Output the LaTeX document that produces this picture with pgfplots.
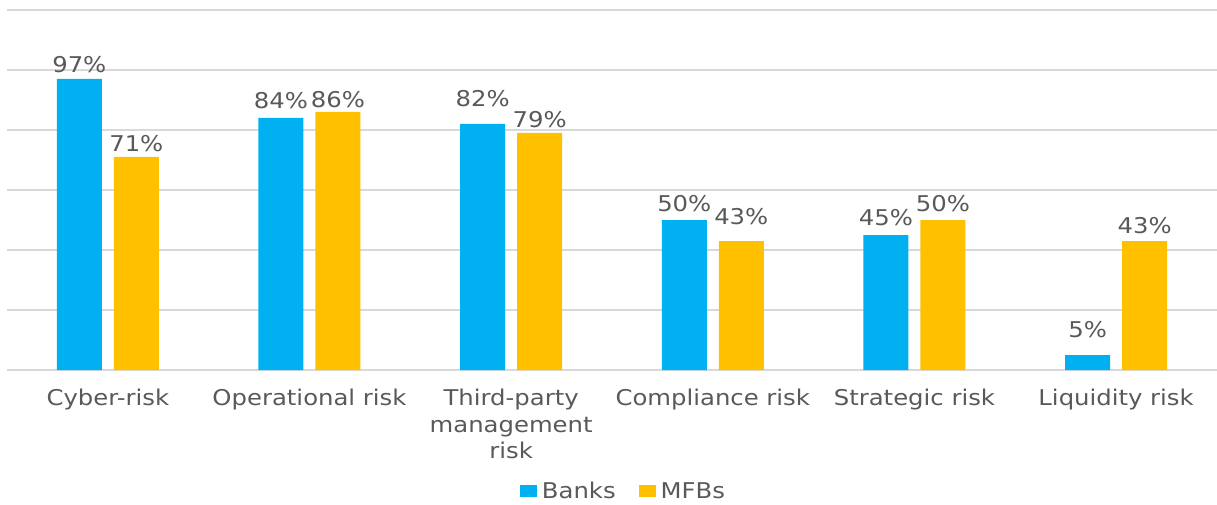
\documentclass[border=0pt]{standalone}
\usepackage{pgfplots}
\pgfplotsset{compat=1.18}
\usepackage{fontspec}
\setmainfont{DejaVu Sans}[FakeStretch=1.12]
\definecolor{banks}{HTML}{00B0F0}
\definecolor{mfbs}{HTML}{FFC000}
\definecolor{txt}{HTML}{595959}
\definecolor{gridc}{HTML}{D9D9D9}
\begin{document}
\begin{tikzpicture}
\path[use as bounding box] (-7bp,-135bp) rectangle (1210bp,370bp);
\begin{axis}[
  at={(0,0)}, anchor=south west,
  scale only axis, width=1210bp, height=360bp,
  ybar=12bp, bar width=45bp,
  xmin=-0.5, xmax=5.5, ymin=0, ymax=120,
  axis line style={draw=none},
  major tick length=0pt,
  xtick={0,1,2,3,4,5},
  xticklabels={Cyber-risk, Operational risk, {Third-party\\management\\risk}, Compliance risk, Strategic risk, Liquidity risk},
  xticklabel style={align=center, inner sep=0pt, yshift=-19bp, text=txt},
  ytick={0,20,40,60,80,100,120},
  yticklabels={},
  ymajorgrids, grid style={draw=gridc, line width=1.5bp},
  font=\fontsize{21.8}{26.5}\selectfont,
  /pgf/number format/assume math mode=true,
  nodes near coords={\pgfmathprintnumber{\pgfplotspointmeta}\%},
  point meta=y,
  legend style={at={(0.5095,-0.336)}, anchor=center, draw=none, fill=none,
    legend columns=2, font=\fontsize{21.8}{26.5}\selectfont, text=txt,
    /tikz/every even column/.append style={column sep=21bp}},
  clip=false,
]
\addplot[fill=banks, draw=none,
  visualization depends on={value \thisrow{off} \as \labeloff},
  every node near coord/.append style={text=txt, inner sep=0pt, yshift=\labeloff bp, font=\fontsize{21.8}{26.5}\selectfont},
  legend image code/.code={\fill[banks] (0bp,-6bp) rectangle (17bp,6bp); \path (0bp,0bp) -- (20bp,0bp);}]
  table[x=x, y=y] {
x y off
0 97 6
1 84 8.7
2 82 17
3 50 8.3
4 45 8.7
5 5 17
};
\addplot[fill=mfbs, draw=none,
  visualization depends on={value \thisrow{off} \as \labeloff},
  every node near coord/.append style={text=txt, inner sep=0pt, yshift=\labeloff bp, font=\fontsize{21.8}{26.5}\selectfont},
  legend image code/.code={\fill[mfbs] (0bp,-6bp) rectangle (17bp,6bp); \path (0bp,0bp) -- (20bp,0bp);}]
  table[x=x, y=y] {
x y off
0 71 4.5
1 86 4
2 79 5
3 43 16
4 50 8.3
5 43 7
};
\legend{Banks, MFBs}
\end{axis}
\end{tikzpicture}
\end{document}
